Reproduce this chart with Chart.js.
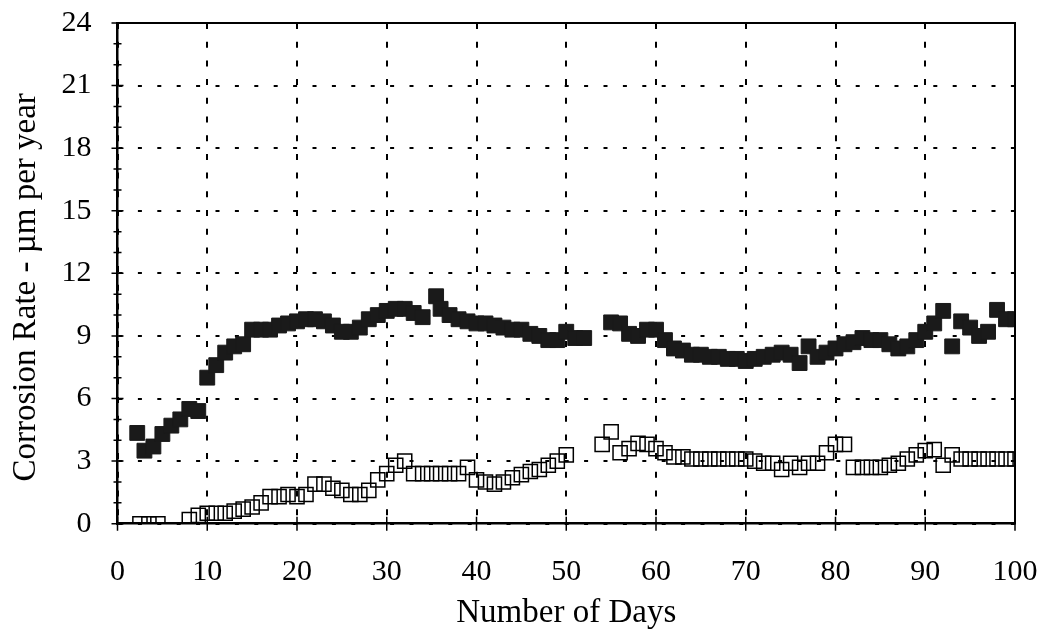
<!DOCTYPE html>
<html>
<head>
<meta charset="utf-8">
<title>Corrosion Rate</title>
<script src="https://cdn.jsdelivr.net/npm/chart.js@4/dist/chart.umd.min.js"></script>
<style>
  html, body { margin: 0; padding: 0; background: #fff; }
  #chart { display: block; }
</style>
</head>
<body>
<canvas id="chart" width="1039" height="633"></canvas>
<script>
// Corrosion rate readings (µm per year) against number of days

// Upper series (filled squares)
const solidDays = [2.2, 3, 4, 5, 6, 7, 8, 9, 10, 11, 12, 13, 14, 15, 16, 17, 18, 19, 20,
    21, 22, 23, 24, 25, 26, 27, 28, 29, 30, 31, 32, 33, 34, 35.5, 36, 37, 38, 39, 40,
    41, 42, 43, 44, 45, 46, 47, 48, 49, 50, 51, 52,
    55, 56, 57, 58, 59, 60, 61, 62, 63, 64, 65, 66, 67, 68, 69, 70,
    71, 72, 73, 74, 75, 76, 77, 78, 79, 80, 81, 82, 83, 84, 85, 86, 87, 88, 89, 90,
    91, 92, 93, 94, 95, 96, 97, 98, 99, 100];
const solidRates = [4.35, 3.5, 3.7, 4.3, 4.7, 5.0, 5.5, 5.4, 7.0, 7.6, 8.2, 8.5, 8.6, 9.3, 9.3, 9.3, 9.5, 9.6, 9.7,
    9.8, 9.8, 9.7, 9.5, 9.2, 9.2, 9.4, 9.8, 10.0, 10.2, 10.3, 10.3, 10.1, 9.9, 10.9, 10.3, 10.0, 9.8, 9.7, 9.6,
    9.6, 9.5, 9.4, 9.3, 9.3, 9.1, 9.0, 8.8, 8.8, 9.2, 8.9, 8.9,
    9.65, 9.6, 9.1, 9.0, 9.3, 9.3, 8.8, 8.4, 8.3, 8.1, 8.1, 8.0, 8.0, 7.9, 7.9, 7.8,
    7.9, 8.0, 8.1, 8.2, 8.1, 7.7, 8.5, 8.0, 8.2, 8.4, 8.6, 8.7, 8.9, 8.8, 8.8, 8.6, 8.4, 8.5, 8.8, 9.2,
    9.6, 10.2, 8.5, 9.7, 9.4, 9.0, 9.2, 10.25, 9.8, 9.8];

// Lower series (open squares)
const openDays = [2.5, 3.5, 4.5, 8, 9, 10, 11, 12, 13, 14, 15, 16, 17, 18, 19, 20,
    21, 22, 23, 24, 25, 26, 27, 28, 29, 30, 31, 32, 33, 34, 35, 36, 37, 38, 39, 40,
    41, 42, 43, 44, 45, 46, 47, 48, 49, 50,
    54, 55, 56, 57, 58, 59, 60, 61, 62, 63, 64, 65, 66, 67, 68, 69, 70,
    71, 72, 73, 74, 75, 76, 77, 78, 79, 80, 81, 82, 83, 84, 85, 86, 87, 88, 89, 90,
    91, 92, 93, 94, 95, 96, 97, 98, 99, 100];
const openRates = [0, 0, 0, 0.2, 0.4, 0.5, 0.5, 0.5, 0.6, 0.7, 0.8, 1.0, 1.3, 1.3, 1.4, 1.3,
    1.4, 1.9, 1.9, 1.7, 1.6, 1.4, 1.4, 1.6, 2.1, 2.4, 2.8, 3.0, 2.4, 2.4, 2.4, 2.4, 2.4, 2.4, 2.7, 2.1,
    2.0, 1.9, 2.0, 2.2, 2.35, 2.5, 2.6, 2.8, 3.0, 3.3,
    3.8, 4.4, 3.4, 3.6, 3.85, 3.8, 3.6, 3.4, 3.2, 3.2, 3.1, 3.1, 3.1, 3.1, 3.1, 3.1, 3.1,
    3.0, 2.9, 2.9, 2.6, 2.9, 2.7, 2.9, 2.9, 3.4, 3.8, 3.8, 2.7, 2.7, 2.7, 2.7, 2.8, 2.9, 3.1, 3.3, 3.5,
    3.55, 2.8, 3.3, 3.1, 3.1, 3.1, 3.1, 3.1, 3.1, 3.1];

// Axis ranges and tick steps
const xRange = [0, 100];
const xStep = 10;
const yRange = [0, 24];
const yStep = 3;
const yMinorStep = 1;

const xTitle = 'Number of Days';
const yTitle = 'Corrosion Rate - µm per year';

const serif = 'Liberation Serif, Times New Roman, serif';

function toPoints(days, rates) {
    return days.map((d, i) => ({ x: d, y: rates[i] }));
}

// Solid frame on top/right, tick marks crossing the axes, and the y title
const frameAndTicks = {
    id: 'frameAndTicks',
    afterDraw(chart) {
        const { ctx, chartArea: a, scales } = chart;
        const xs = scales.x, ys = scales.y;
        ctx.save();
        ctx.strokeStyle = '#000';
        ctx.lineWidth = 2;
        ctx.beginPath();
        ctx.moveTo(a.left, a.top);
        ctx.lineTo(a.right, a.top);
        ctx.lineTo(a.right, a.bottom);
        ctx.stroke();

        ctx.lineWidth = 1.5;
        ctx.beginPath();
        for (let v = yRange[0]; v <= yRange[1]; v += yMinorStep) {
            const py = ys.getPixelForValue(v);
            const len = v % yStep === 0 ? 6 : 4;
            ctx.moveTo(a.left - len, py);
            ctx.lineTo(a.left + len, py);
        }
        for (let v = xRange[0]; v <= xRange[1]; v += xStep) {
            const px = xs.getPixelForValue(v);
            ctx.moveTo(px, a.bottom - 7);
            ctx.lineTo(px, a.bottom + 7);
        }
        ctx.stroke();

        // rotated axis title, sitting a little below the plot's centre
        ctx.translate(26, (a.top + a.bottom) / 2 + 14);
        ctx.rotate(-Math.PI / 2);
        ctx.fillStyle = '#000';
        ctx.font = '33px ' + serif;
        ctx.textAlign = 'center';
        ctx.textBaseline = 'middle';
        ctx.fillText(yTitle, 0, 0);
        ctx.restore();
    }
};

function drawChart() {
    const ctx = document.getElementById('chart').getContext('2d');
    new Chart(ctx, {
        type: 'scatter',
        data: {
            datasets: [{
                label: 'Upper',
                data: toPoints(solidDays, solidRates),
                pointStyle: 'rect',
                pointRadius: 10.5,
                backgroundColor: '#1a1a1a',
                borderColor: '#1a1a1a',
                borderWidth: 1
            }, {
                label: 'Lower',
                data: toPoints(openDays, openRates),
                pointStyle: 'rect',
                pointRadius: 10,
                backgroundColor: 'rgba(0,0,0,0)',
                borderColor: '#000',
                borderWidth: 1.5
            }]
        },
        options: {
            responsive: false,
            animation: false,
            devicePixelRatio: 1,
            layout: { padding: { top: 23, right: 24, left: 0, bottom: 0 } },
            plugins: {
                legend: { display: false },
                tooltip: { enabled: false }
            },
            scales: {
                x: {
                    type: 'linear',
                    min: xRange[0],
                    max: xRange[1],
                    afterFit: (scale) => {
                        scale.height = 109.3;
                        scale.paddingLeft = 0;
                        scale.paddingRight = 0;
                    },
                    ticks: {
                        stepSize: xStep,
                        color: '#000',
                        padding: 30,
                        font: { family: serif, size: 30 }
                    },
                    grid: { color: '#000', lineWidth: 2, drawTicks: false },
                    border: { color: '#000', width: 2.5, dash: [6, 12.7] },
                    title: {
                        display: true,
                        text: xTitle,
                        color: '#000',
                        padding: { top: 6, bottom: 0 },
                        font: { family: serif, size: 33 }
                    }
                },
                y: {
                    min: yRange[0],
                    max: yRange[1],
                    afterFit: (scale) => {
                        scale.width = 117.5;
                        scale.paddingTop = 0;
                        scale.paddingBottom = 0;
                    },
                    ticks: {
                        stepSize: yStep,
                        color: '#000',
                        padding: 26,
                        font: { family: serif, size: 30 }
                    },
                    grid: { color: '#000', lineWidth: 2, drawTicks: false },
                    border: { color: '#000', width: 2.5, dash: [4, 15.4] }
                }
            }
        },
        plugins: [frameAndTicks]
    });
}

document.addEventListener('DOMContentLoaded', drawChart);
</script>
</body>
</html>
